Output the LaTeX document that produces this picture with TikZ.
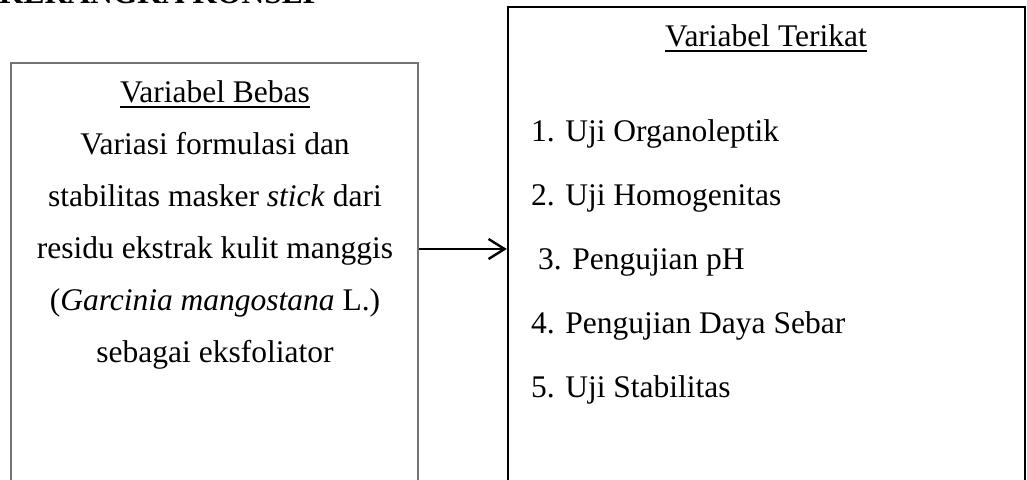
\documentclass[tikz,border=0pt]{standalone}
\usepackage{fontspec}
\setmainfont{Liberation Serif}
\usetikzlibrary{arrows.meta}
\begin{document}
\begin{tikzpicture}[x=1pt,y=-1pt,
  txt/.style={inner sep=0pt, font=\fontsize{31.5}{36}\selectfont},
  ttl/.style={inner sep=0pt, font=\fontsize{31.5}{36}\selectfont\bfseries},
  lbox/.style={draw=black!55, line width=1.2pt, minimum width=407pt, minimum height=427pt, inner sep=0pt},
  rbox/.style={draw=black, line width=2.4pt, minimum width=517pt, minimum height=483pt, inner sep=0pt},
  uline/.style={line width=1.8pt},
  arr/.style={line width=2.4pt, -{Straight Barb[length=16pt,width=20pt]}}]
\useasboundingbox (0,0) rectangle (1027,479);
\node[ttl, anchor=base west] (title) at (-1,4) {KERANGKA KONSEP};
% boxes
\node[lbox] (L) at (214.5,276.5) {};
\node[rbox] (R) at (766.5,248.5) {};
% left text
\node[txt, anchor=base] (lh) at (215,102) {Variabel Bebas};
\draw[uline] ([yshift=-5pt]lh.base west) -- ([yshift=-5pt]lh.base east);
\node[txt, anchor=base] (l1) at (215,154) {Variasi formulasi dan};
\node[txt, anchor=base] (l2) at (215,206) {stabilitas masker \textit{stick} dari};
\node[txt, anchor=base] (l3) at (215,258) {residu ekstrak kulit manggis};
\node[txt, anchor=base] (l4) at (215,310) {(\textit{Garcinia mangostana} L.)};
\node[txt, anchor=base] (l5) at (215,362) {sebagai eksfoliator};
% right text
\node[txt, anchor=base] (rh) at (766,46) {Variabel Terikat};
\draw[uline] ([yshift=-5pt]rh.base west) -- ([yshift=-5pt]rh.base east);
\node[txt, anchor=base west] (r1) at (531,141) {1. Uji Organoleptik};
\node[txt, anchor=base west] (r2) at (531,205) {2. Uji Homogenitas};
\node[txt, anchor=base west] (r3) at (538,269) {3. Pengujian pH};
\node[txt, anchor=base west] (r4) at (531,333) {4. Pengujian Daya Sebar};
\node[txt, anchor=base west] (r5) at (531,397) {5. Uji Stabilitas};
% connector
\coordinate (A) at (0,249);
\draw[arr] (L.east |- A) -- (R.west |- A);
\end{tikzpicture}
\end{document}
